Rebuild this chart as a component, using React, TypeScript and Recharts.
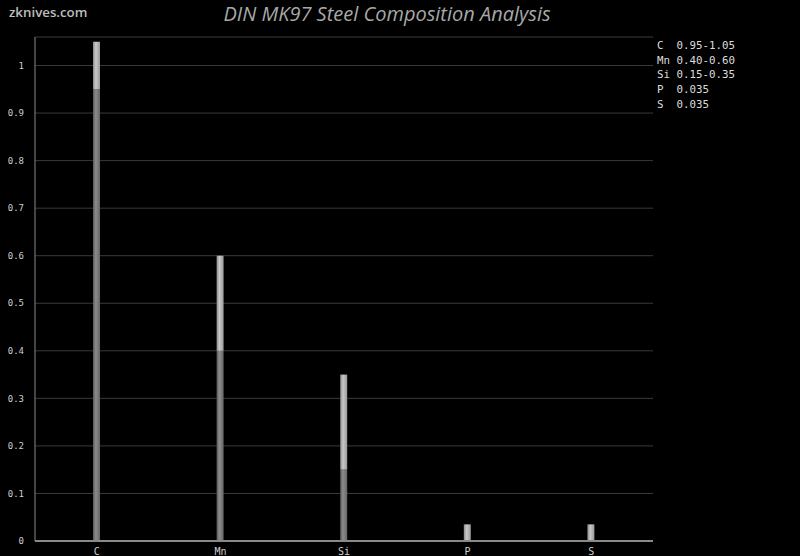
import React from 'react';
import { BarChart, Bar, XAxis, YAxis, CartesianGrid } from 'recharts';

const elements = ['C', 'Mn', 'Si', 'P', 'S'];
const minValues = [0.95, 0.4, 0.15, 0, 0];
const maxValues = [1.05, 0.6, 0.35, 0.035, 0.035];
const legendLines = ['C  0.95-1.05', 'Mn 0.40-0.60', 'Si 0.15-0.35', 'P  0.035', 'S  0.035'];
const yTicks = [0, 0.1, 0.2, 0.3, 0.4, 0.5, 0.6, 0.7, 0.8, 0.9, 1];

const data = elements.map((el, i) => ({
  name: el,
  min: minValues[i],
  range: +(maxValues[i] - minValues[i]).toFixed(4),
}));

const mono = '"DejaVu Sans Mono", "Liberation Mono", monospace';

export default function App() {
  return (
    <div style={{ position: 'absolute', left: 0, top: 0, width: 800, height: 556, background: '#000', overflow: 'hidden' }}>
      <BarChart
        width={800}
        height={556}
        data={data}
        margin={{ top: 37, right: 147, left: 0, bottom: 0 }}
        barCategoryGap={0}
      >
        <defs>
          <linearGradient id="gMin" x1="0" y1="0" x2="1" y2="0">
            <stop offset="0%" stopColor="#5a5a5a" />
            <stop offset="40%" stopColor="#8c8c8c" />
            <stop offset="100%" stopColor="#666" />
          </linearGradient>
          <linearGradient id="gMax" x1="0" y1="0" x2="1" y2="0">
            <stop offset="0%" stopColor="#8a8a8a" />
            <stop offset="40%" stopColor="#c8c8c8" />
            <stop offset="100%" stopColor="#9a9a9a" />
          </linearGradient>
        </defs>
        <CartesianGrid horizontal vertical={false} stroke="#3a3a3a" strokeWidth={1} />
        <XAxis
          dataKey="name"
          height={15}
          tickLine={false}
          axisLine={{ stroke: '#8a8a8a', strokeWidth: 2 }}
          tickMargin={1}
          tick={{ fill: '#cfcfcf', fontSize: 10, fontFamily: mono }}
          interval={0}
        />
        <YAxis
          width={35}
          domain={[0, 1.06]}
          ticks={yTicks}
          allowDataOverflow
          tickLine={false}
          axisLine={{ stroke: '#8a8a8a', strokeWidth: 1 }}
          tickMargin={5}
          tick={{ fill: '#cfcfcf', fontSize: 9, fontFamily: mono }}
        />
        <Bar dataKey="min" stackId="a" barSize={7} fill="url(#gMin)" isAnimationActive={false} />
        <Bar dataKey="range" stackId="a" barSize={7} fill="url(#gMax)" isAnimationActive={false} />
      </BarChart>
      <div style={{ position: 'absolute', left: 9, top: 3, color: '#bdbdbd', fontFamily: '"Open Sans", sans-serif', fontSize: 13.3, fontWeight: 600 }}>
        zknives.com
      </div>
      <div style={{ position: 'absolute', left: 0, width: 774, top: 0, textAlign: 'center', color: '#a8a8a8', fontFamily: '"Open Sans", sans-serif', fontStyle: 'italic', fontSize: 20, lineHeight: '28px' }}>
        DIN MK97 Steel Composition Analysis
      </div>
      <div style={{ position: 'absolute', left: 657, top: 39, color: '#dcdcdc', fontFamily: mono, fontSize: 10.8, lineHeight: '14.7px', whiteSpace: 'pre' }}>
        {legendLines.map((l) => (
          <div key={l}>{l}</div>
        ))}
      </div>
    </div>
  );
}
